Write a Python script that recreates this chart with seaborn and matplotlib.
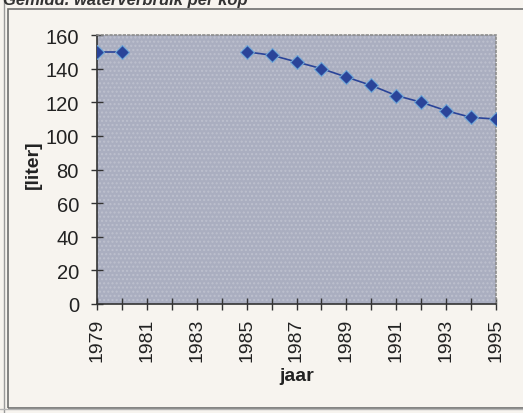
import numpy as np
import pandas as pd
import matplotlib
matplotlib.use("Agg")
import matplotlib.pyplot as plt
from matplotlib.patches import Rectangle
import seaborn as sns

# Water use per head, litres
years = [1979, 1980, 1985, 1986, 1987, 1988, 1989, 1990, 1991, 1992, 1993, 1994, 1995]
liters = [150, 150, 150, 148, 144, 140, 135, 130, 124, 120, 115, 111, 110]
segment = [0, 0, 1, 1, 1, 1, 1, 1, 1, 1, 1, 1, 1]
year_ticks = list(range(1979, 1996))
year_labels = [str(y) if (y - 1979) % 2 == 0 else "" for y in year_ticks]
y_ticks = [0, 20, 40, 60, 80, 100, 120, 140, 160]

df = pd.DataFrame({"jaar": years, "liter": liters, "segment": segment})

sns.set_theme(style="white")
plt.rcParams["font.family"] = ["Liberation Sans", "DejaVu Sans"]

fig = plt.figure(figsize=(5.23, 4.14), dpi=100)
fig.patch.set_facecolor("#f7f4ef")

# outer chart frame (double line on the left)
fig.add_artist(Rectangle((8 / 523, 0.012), 1.0, (414 - 10) / 414 - 0.012,
                         transform=fig.transFigure, fill=False,
                         edgecolor="#6f6f6f", linewidth=1.2))
fig.add_artist(plt.Line2D([4 / 523, 4 / 523], [0.0, 1.0], transform=fig.transFigure,
                          color="#9a9a9a", linewidth=1.0))
fig.add_artist(plt.Line2D([0, 1], [4 / 414, 4 / 414], transform=fig.transFigure,
                          color="#b5b5b5", linewidth=1.0))

# heading running off the top edge
fig.text(0.005, 1.0, "Gemidd. waterverbruik per kop", ha="left", va="center",
         fontsize=12, fontweight="bold", fontstyle="italic", color="#333333")

ax = fig.add_axes([97 / 523, 1 - 305 / 414, (496 - 97) / 523, (305 - 36) / 414])
ax.set_facecolor("#aaaec0")
ax.add_patch(Rectangle((0, 0), 1, 1, transform=ax.transAxes, facecolor="none",
                       hatch="....", edgecolor="#bdc0ce", linewidth=0, zorder=0))

sns.lineplot(data=df, x="jaar", y="liter", units="segment", estimator=None,
             color="#2a4499", linewidth=1.2, marker="D", markersize=7,
             markeredgecolor="#6fa7d8", markeredgewidth=0.8, ax=ax, zorder=3)

ax.set_xlim(1979, 1995)
ax.set_ylim(0, 160)
ax.set_xticks(year_ticks)
ax.set_xticklabels(year_labels, rotation=90, fontsize=14, color="#222222")
ax.set_yticks(y_ticks)
ax.set_yticklabels([str(v) for v in y_ticks], fontsize=14.5, color="#222222")
ax.tick_params(axis="both", direction="inout", length=8, width=1, color="#333333",
               bottom=True, left=True)
ax.tick_params(axis="y", pad=9)
ax.tick_params(axis="x", pad=6)
ax.set_xlabel("jaar", fontsize=14, fontweight="bold", color="#222222", labelpad=4)
ax.set_ylabel("[liter]", fontsize=14, fontweight="bold", color="#222222")
ax.yaxis.set_label_coords(-0.138, 0.52)

for side in ["top", "right"]:
    ax.spines[side].set_visible(True)
    ax.spines[side].set_color("#8c8c8c")
    ax.spines[side].set_linestyle(":")
    ax.spines[side].set_linewidth(1.2)
for side in ["left", "bottom"]:
    ax.spines[side].set_color("#333333")
    ax.spines[side].set_linewidth(1.2)

ax.grid(False)
fig.savefig("out.png", dpi=100, facecolor=fig.get_facecolor())
